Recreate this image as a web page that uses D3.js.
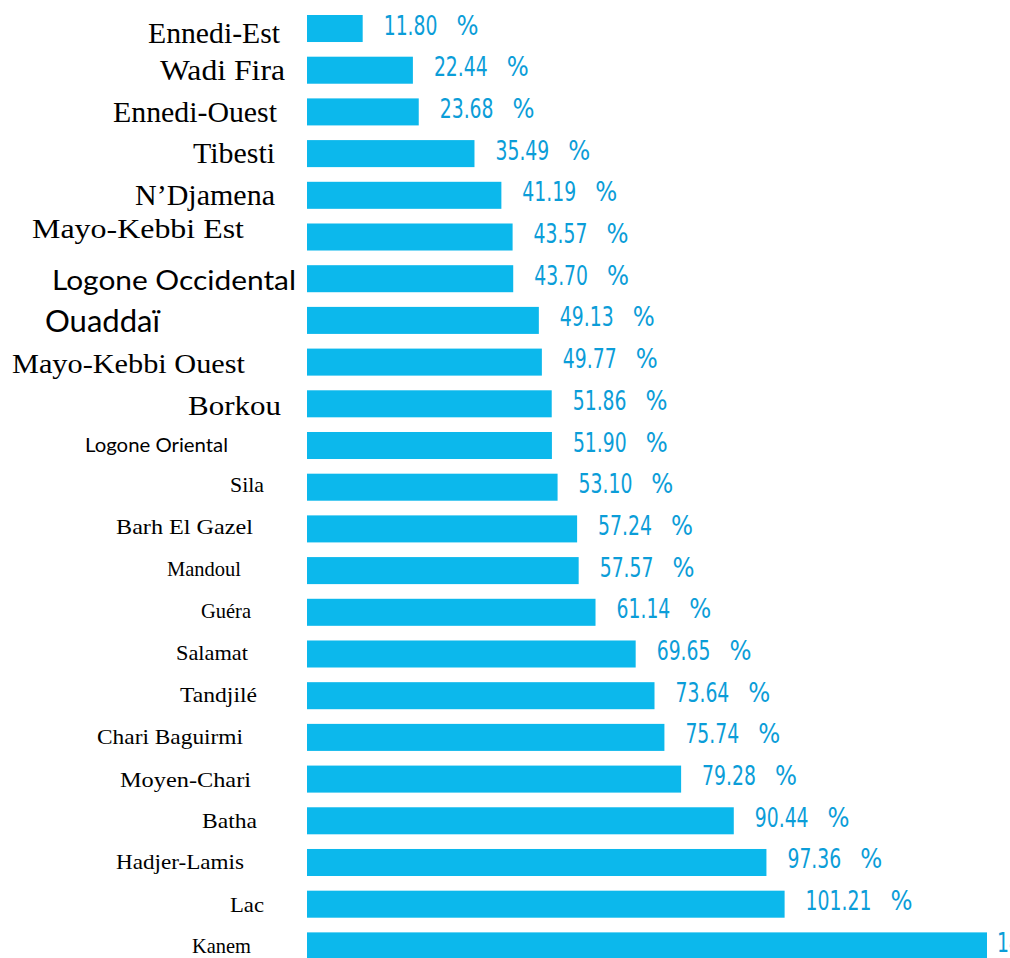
<!DOCTYPE html>
<html>
<head>
<meta charset="utf-8">
<script src="https://cdn.jsdelivr.net/npm/d3@7"></script>
<style>
  html, body { margin: 0; padding: 0; background: #fff; }
  svg { display: block; }
</style>
</head>
<body>
<div id="chart"></div>
<script>
"use strict";

// regions, ordered as in the picture (top to bottom)
const regions = [
    "Ennedi-Est", "Wadi Fira", "Ennedi-Ouest", "Tibesti", "N’Djamena",
    "Mayo-Kebbi Est", "Logone Occidental", "Ouaddaï", "Mayo-Kebbi Ouest", "Borkou",
    "Logone Oriental", "Sila", "Barh El Gazel", "Mandoul", "Guéra",
    "Salamat", "Tandjilé", "Chari Baguirmi", "Moyen-Chari", "Batha",
    "Hadjer-Lamis", "Lac", "Kanem"
];

// percentages (Kanem is cut off in the picture)
const rates = [
    11.80, 22.44, 23.68, 35.49, 41.19,
    43.57, 43.70, 49.13, 49.77, 51.86,
    51.90, 53.10, 57.24, 57.57, 61.14,
    69.65, 73.64, 75.74, 79.28, 90.44,
    97.36, 101.21, 144.10
];

// the region labels were typed with mixed fonts; one style per row
const SERIF = "'Liberation Serif', 'Times New Roman', serif",
    SANS = "Lato, 'Open Sans', sans-serif";
const labelStyle = [
    { font: SERIF, size: 29, right: 280, dy: 14.5, w: 132 },
    { font: SERIF, size: 29, right: 285, dy: 9.8, w: 125 },
    { font: SERIF, size: 29, right: 277, dy: 10.1, w: 164 },
    { font: SERIF, size: 29, right: 275, dy: 9.4, w: 82 },
    { font: SERIF, size: 29, right: 275, dy: 9.7, w: 140 },
    { font: SERIF, size: 28, right: 244, dy: 1, w: 212 },
    { font: SANS, size: 27, right: 296, dy: 11.3, w: 244 },
    { font: SANS, size: 30, right: 160, dy: 11.6, w: 115 },
    { font: SERIF, size: 27, right: 245, dy: 10.9, w: 233 },
    { font: SERIF, size: 28, right: 281, dy: 11.2, w: 93 },
    { font: SANS, size: 20, right: 228, dy: 6.5, w: 143 },
    { font: SERIF, size: 22, right: 264, dy: 4.8, w: 34 },
    { font: SERIF, size: 22, right: 253, dy: 5.1, w: 137 },
    { font: SERIF, size: 22, right: 241, dy: 5.4, w: 74 },
    { font: SERIF, size: 22, right: 251, dy: 5.7, w: 50 },
    { font: SERIF, size: 22, right: 248, dy: 6, w: 72 },
    { font: SERIF, size: 22, right: 257, dy: 6.3, w: 77 },
    { font: SERIF, size: 22, right: 243, dy: 6.6, w: 146 },
    { font: SERIF, size: 22, right: 251, dy: 7.9, w: 131 },
    { font: SERIF, size: 22, right: 257, dy: 7.2, w: 55 },
    { font: SERIF, size: 22, right: 244, dy: 6.5, w: 128 },
    { font: SERIF, size: 22, right: 264, dy: 7.8, w: 34 },
    { font: SERIF, size: 22, right: 251, dy: 7.1, w: 59 }
];

const data = regions.map((name, i) => ({ name: name, value: rates[i], style: labelStyle[i] }));

const svgWidth = 1010,
    svgHeight = 958;

const barColor = "#0cb8ec",
    valueColor = "#0b9dd8",
    valueGap = 21,
    percentGap = 19,
    digitWidth = 12.2,
    dotWidth = 5,
    valueMaxX = 997;

const Format = d3.format(".2f");

// the value font is narrow; squeeze it to its width in the picture
function numWidth(v) {
    const s = Format(v);
    return s.replace(".", "").length * digitWidth + dotWidth;
}

const svg = d3.select("#chart").append("svg")
    .attr("width", svgWidth)
    .attr("height", svgHeight);

svg.append("rect")
    .attr("width", svgWidth)
    .attr("height", svgHeight)
    .attr("fill", "#fff");

// scales
const x = d3.scaleLinear()
    .domain([0, d3.max(rates)])
    .range([307, 987]);

const y = d3.scaleBand()
    .domain(regions)
    .range([15, 959.4])
    .paddingInner(0.352)
    .paddingOuter(0);

// bars
svg.append("g")
    .selectAll("rect")
    .data(data)
    .enter()
    .append("rect")
    .attr("x", x(0))
    .attr("y", d => y(d.name))
    .attr("width", d => x(d.value) - x(0))
    .attr("height", y.bandwidth())
    .attr("fill", barColor);

// region labels
svg.append("g")
    .selectAll("text")
    .data(data)
    .enter()
    .append("text")
    .attr("x", d => d.style.right)
    .attr("y", d => y(d.name) + y.bandwidth() / 2 + d.style.dy)
    .attr("text-anchor", "end")
    .attr("font-family", d => d.style.font)
    .attr("font-size", d => d.style.size)
    .attr("textLength", d => d.style.w)
    .attr("lengthAdjust", "spacingAndGlyphs")
    .attr("fill", "#000")
    .text(d => d.name);

// value labels: number, then a separate "%"
const values = svg.append("g")
    .attr("font-family", "'Liberation Sans Narrow', 'DejaVu Sans Condensed', sans-serif")
    .attr("font-size", 26)
    .attr("fill", valueColor)
    .selectAll("g")
    .data(data)
    .enter()
    .append("g")
    .attr("transform", d => "translate(" + Math.min(x(d.value) + valueGap, valueMaxX) + "," + (y(d.name) + y.bandwidth() / 2 + 6) + ")");

values.append("text")
    .attr("textLength", d => numWidth(d.value))
    .attr("lengthAdjust", "spacingAndGlyphs")
    .text(d => Format(d.value));

values.append("text")
    .attr("x", d => numWidth(d.value) + percentGap)
    .attr("textLength", 22)
    .attr("lengthAdjust", "spacingAndGlyphs")
    .text("%");
</script>
</body>
</html>
